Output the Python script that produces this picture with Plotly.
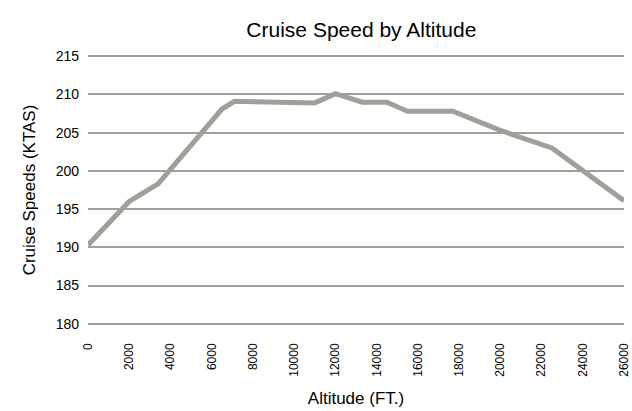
import plotly.graph_objects as go

# Data
altitude_ft = [0, 2000, 3400, 6500, 7100, 11000, 12000, 13300, 14500, 15500, 17700, 20000, 22500, 26000]
cruise_ktas = [190.3, 196.0, 198.3, 208.1, 209.1, 208.9, 210.1, 209.0, 209.0, 207.8, 207.8, 205.3, 203.0, 196.1]

x_ticks = list(range(0, 26001, 2000))
y_ticks = [180, 185, 190, 195, 200, 205, 210, 215]

GREY = '#a29e98'
FONT = 'Liberation Sans, Arial, Helvetica, sans-serif'

fig = go.Figure()

fig.add_trace(go.Scatter(
    x=altitude_ft,
    y=cruise_ktas,
    mode='lines',
    line=dict(color=GREY, width=5),
    showlegend=False,
    hoverinfo='skip'
))

fig.update_layout(
    width=632,
    height=411,
    margin=dict(l=88, r=8, t=54, b=85, autoexpand=False),
    paper_bgcolor='white',
    plot_bgcolor='white',
    font=dict(family=FONT, color='black', size=12),
    title=dict(
        text='Cruise Speed by Altitude',
        x=0.51, xanchor='center',
        y=0.927, yanchor='middle',
        xref='paper',
        font=dict(size=21)
    ),
    xaxis=dict(
        range=[0, 26000],
        tickvals=x_ticks,
        ticktext=[str(v) for v in x_ticks],
        tickangle=-90,
        showgrid=False,
        zeroline=False,
        showline=False,
        ticks='',
        ticklabelstandoff=14,
        ticklabeloverflow='allow',
        automargin=False,
        tickfont=dict(size=12),
        title=dict(text='Altitude (FT.)', font=dict(size=17), standoff=16)
    ),
    yaxis=dict(
        range=[179.7, 215.3],
        tickvals=y_ticks,
        showgrid=True,
        gridcolor=GREY,
        gridwidth=1.5,
        zeroline=False,
        showline=False,
        ticks='',
        ticklabelstandoff=8,
        automargin=False,
        tickfont=dict(size=14),
        title=dict(text='Cruise Speeds (KTAS)', font=dict(size=17), standoff=15)
    )
)

# drop the default page margin so the figure fills the window exactly
fig.write_html(
    "out.html",
    config={'displayModeBar': False},
    post_script="document.body.style.margin='0';"
)
